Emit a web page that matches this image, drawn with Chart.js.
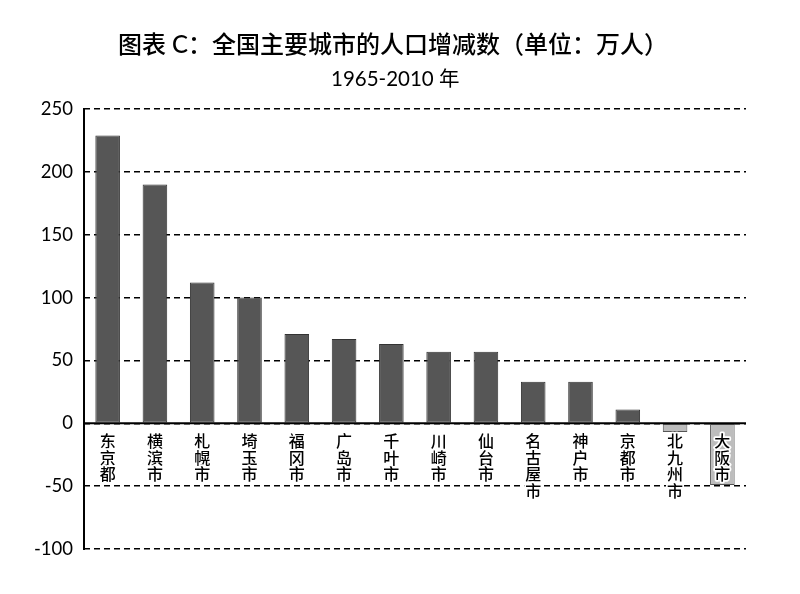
<!DOCTYPE html>
<html>
<head>
<meta charset="utf-8">
<script src="https://cdn.jsdelivr.net/npm/chart.js@4.4.1/dist/chart.umd.min.js"></script>
<style>
html,body{margin:0;padding:0;background:#fff;}
#wrap{width:800px;height:594px;position:relative;}
</style>
</head>
<body>
<div id="wrap"><canvas id="c" width="800" height="594"></canvas></div>
<script>
const titleText = '图表 C：全国主要城市的人口增减数（单位：万人）';
const subtitleText = '1965-2010 年';
const categories = ['东京都','横滨市','札幌市','埼玉市','福冈市','广岛市','千叶市','川崎市','仙台市','名古屋市','神户市','京都市','北九州市','大阪市'];
const values = [229, 190, 112, 100, 71, 67, 63, 57, 57, 33, 33, 11, -7, -49];
const yTicks = [-100, -50, 0, 50, 100, 150, 200, 250];

const FONT = 'Lato, "Noto Sans CJK SC", sans-serif';

const decorPlugin = {
  id: 'decor',
  afterDraw(chart) {
    const ctx = chart.ctx;
    ctx.save();
    ctx.fillStyle = '#000';
    ctx.textBaseline = 'middle';
    ctx.textAlign = 'left';
    ctx.font = '500 24px ' + FONT;
    ctx.fillText(titleText, 118, 45);
    ctx.font = '20.5px ' + FONT;
    ctx.fillText(subtitleText, 331, 79);
    ctx.restore();
  },
  afterDatasetsDraw(chart) {
    const ctx = chart.ctx;
    const xs = chart.scales.x, ys = chart.scales.y;
    const zeroY = ys.getPixelForValue(0);
    const area = chart.chartArea;
    ctx.save();
    ctx.strokeStyle = '#000';
    ctx.lineWidth = 2;
    ctx.setLineDash([]);
    ctx.beginPath();
    ctx.moveTo(area.left, ys.getPixelForValue(250) - 1);
    ctx.lineTo(area.left, ys.getPixelForValue(-100) + 1);
    ctx.stroke();
    ctx.beginPath();
    ctx.moveTo(area.left, zeroY);
    ctx.lineTo(area.right, zeroY);
    ctx.stroke();
    ctx.font = '500 16px "Noto Sans CJK SC", sans-serif';
    ctx.textAlign = 'center';
    ctx.textBaseline = 'middle';
    ctx.lineJoin = 'round';
    categories.forEach((name, i) => {
      const x = xs.getPixelForValue(i);
      [...name].forEach((ch, j) => {
        const y = zeroY + 18 + j * 16.5;
        ctx.strokeStyle = '#fff';
        ctx.lineWidth = 3.5;
        ctx.strokeText(ch, x, y);
        ctx.fillStyle = '#000';
        ctx.fillText(ch, x, y);
      });
    });
    ctx.restore();
  }
};

new Chart(document.getElementById('c'), {
  type: 'bar',
  data: {
    labels: categories,
    datasets: [{
      data: values,
      backgroundColor: values.map(v => v >= 0 ? '#565656' : '#bdbdbd'),
      borderColor: values.map(v => v >= 0 ? '#333333' : '#555555'),
      borderWidth: 1,
      borderSkipped: false,
      categoryPercentage: 1,
      barPercentage: 0.52
    }]
  },
  options: {
    responsive: false,
    animation: false,
    devicePixelRatio: 1,
    layout: { padding: { left: 0, right: 54, top: 109, bottom: 45 } },
    plugins: {
      legend: { display: false },
      tooltip: { enabled: false },
      title: { display: false },
      subtitle: { display: false }
    },
    scales: {
      x: {
        display: false,
        grid: { display: false }
      },
      y: {
        min: -100,
        max: 250,
        afterBuildTicks(scale) { scale.ticks = yTicks.map(v => ({ value: v })); },
        afterFit(scale) { scale.width = 84; },
        ticks: {
          color: '#000',
          font: { family: FONT, size: 18.5 },
          padding: 11
        },
        grid: {
          color: '#000',
          lineWidth: 1.5,
          drawTicks: false
        },
        border: {
          display: false,
          dash: [6, 4]
        }
      }
    }
  },
  plugins: [decorPlugin]
});
</script>
</body>
</html>
